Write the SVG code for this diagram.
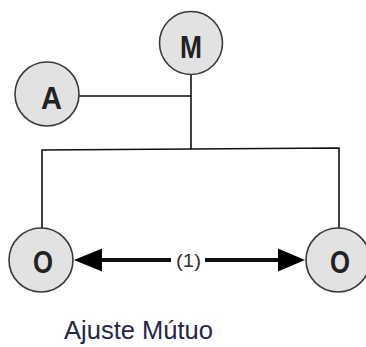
<svg xmlns="http://www.w3.org/2000/svg" width="366" height="347" viewBox="0 0 366 347">
<style>
.node circle{fill:#e2e2e2;stroke:#3a3a3a;stroke-width:1.6}
.node text{font-family:"Liberation Sans",Arial,sans-serif;font-weight:bold;font-size:31px;fill:#222}
.conn line,.conn polyline{stroke:#111;stroke-width:1.6;fill:none}
</style>
<rect width="366" height="347" fill="#fff"/>
<g class="conn">
<line x1="79" y1="96" x2="191" y2="96"/>
<line x1="191" y1="75" x2="191" y2="149"/>
<polyline points="42,228 42,150 191,149 339,148 339,228"/>
<line x1="100" y1="260" x2="280" y2="260" style="stroke-width:4"/>
<polygon points="74,260 102,248.5 102,271.5" fill="#000"/>
<polygon points="305,260 278,248.5 278,271.5" fill="#000"/>
<rect x="171" y="248" width="34" height="24" fill="#fff"/>
<text x="176" y="267" font-family="Liberation Sans,Arial,sans-serif" font-size="19" fill="#333" textLength="25" lengthAdjust="spacingAndGlyphs">(1)</text>
</g>
<g id="M" class="node"><circle cx="191" cy="43" r="31.5"/><text x="180" y="58" textLength="22" lengthAdjust="spacingAndGlyphs">M</text></g>
<g id="A" class="node"><circle cx="47" cy="94" r="32"/><text x="41" y="109" textLength="21" lengthAdjust="spacingAndGlyphs">A</text></g>
<g id="O1" class="node"><circle cx="41" cy="260" r="32"/><text x="33" y="273" textLength="20" lengthAdjust="spacingAndGlyphs">O</text></g>
<g id="O2" class="node"><circle cx="338" cy="260" r="32"/><text x="330" y="273" textLength="20" lengthAdjust="spacingAndGlyphs">O</text></g>
<text x="64" y="339" font-family="Liberation Sans,Arial,sans-serif" font-size="26.5" fill="#26264a" textLength="149" lengthAdjust="spacingAndGlyphs">Ajuste Mútuo</text>
</svg>
